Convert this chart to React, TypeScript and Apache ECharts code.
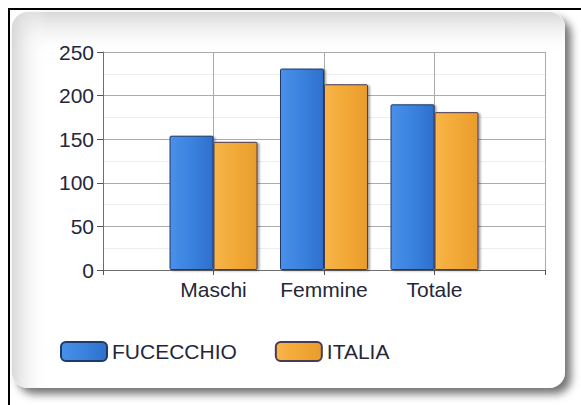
import { useEffect, useRef } from "react";
import * as echarts from "echarts";

// Category slots: empty slots at both ends keep the groups centred on ticks
const categories = ["", "Maschi", "Femmine", "Totale", ""];
const seriesNames = ["FUCECCHIO", "ITALIA"];
const fucecchio: (number | string)[] = ["-", 154, 231, 190, "-"];
const italia: (number | string)[] = ["-", 147, 213, 181, "-"];
const yMax = 250;
const yStep = 50;

const FONT = "Arial, 'Liberation Sans', sans-serif";
const TEXT = "#26263a";
const FONT_SIZE = 21;

const blueFill = new echarts.graphic.LinearGradient(0, 0, 1, 0, [
  { offset: 0, color: "#4a90e9" },
  { offset: 0.5, color: "#3a82df" },
  { offset: 1, color: "#2e70cc" },
]);
const orangeFill = new echarts.graphic.LinearGradient(0, 0, 1, 0, [
  { offset: 0, color: "#f7b549" },
  { offset: 0.5, color: "#f2a936" },
  { offset: 1, color: "#e99c2b" },
]);

export default function App() {
  const ref = useRef<HTMLDivElement>(null);

  useEffect(() => {
    document.body.style.overflow = "hidden";
    if (!ref.current) return;
    const chart = echarts.init(ref.current, null, { renderer: "svg" });
    const barStyle = (fill: any, border: string) => ({
      color: fill,
      borderColor: border,
      borderWidth: 1,
      borderRadius: 1,
      shadowColor: "rgba(0,0,0,0.35)",
      shadowBlur: 2,
      shadowOffsetX: 2,
      shadowOffsetY: 1,
    });
    chart.setOption({
      animation: false,
      backgroundColor: "#ffffff",
      graphic: [
        {
          type: "rect",
          z: -20,
          shape: { x: 2, y: 2, width: 553, height: 376, r: 16 },
          style: {
            fill: "#ffffff",
            shadowColor: "rgba(0,0,0,0.55)",
            shadowBlur: 9,
            shadowOffsetX: 6,
            shadowOffsetY: 6,
          },
        },
        {
          type: "rect",
          z: -19,
          shape: { x: 2, y: 2, width: 553, height: 44, r: [16, 16, 0, 0] },
          style: {
            fill: new echarts.graphic.LinearGradient(0, 0, 0, 1, [
              { offset: 0, color: "rgba(212,212,212,0.9)" },
              { offset: 1, color: "rgba(255,255,255,0)" },
            ]),
          },
        },
        {
          type: "rect",
          z: -19,
          shape: { x: 2, y: 2, width: 36, height: 376, r: [16, 0, 0, 16] },
          style: {
            fill: new echarts.graphic.LinearGradient(0, 0, 1, 0, [
              { offset: 0, color: "rgba(212,212,212,0.9)" },
              { offset: 1, color: "rgba(255,255,255,0)" },
            ]),
          },
        },
      ],
      legend: {
        left: 45,
        top: 326,
        itemWidth: 46,
        itemHeight: 19,
        itemGap: 38,
        icon: "roundRect",
        data: seriesNames,
        textStyle: { fontFamily: FONT, fontSize: FONT_SIZE, color: TEXT },
      },
      grid: { left: 93, top: 42, width: 442, height: 218, containLabel: false },
      xAxis: {
        type: "category",
        data: categories,
        boundaryGap: false,
        axisLine: { lineStyle: { color: "#6e6e6e", width: 1 } },
        axisTick: { show: true, interval: 0, length: 5, lineStyle: { color: "#555" } },
        axisLabel: {
          interval: 0,
          margin: 9,
          fontFamily: FONT,
          fontSize: FONT_SIZE,
          color: TEXT,
        },
        splitLine: { show: true, interval: 0, lineStyle: { color: "#ababab", width: 1 } },
      },
      yAxis: {
        type: "value",
        min: 0,
        max: yMax,
        interval: yStep,
        axisLine: { show: true, lineStyle: { color: "#6e6e6e", width: 1 } },
        axisTick: { show: true, length: 6, lineStyle: { color: "#555" } },
        axisLabel: { margin: 9, fontFamily: FONT, fontSize: FONT_SIZE, color: TEXT },
        splitLine: { show: true, lineStyle: { color: "#ababab", width: 1 } },
        minorTick: { show: false, splitNumber: 2 },
        minorSplitLine: { show: true, lineStyle: { color: "#eeeeee", width: 1 } },
      },
      series: [
        {
          name: seriesNames[0],
          type: "bar",
          data: fucecchio,
          barWidth: 44,
          barGap: "0%",
          itemStyle: barStyle(blueFill, "#1e3a6a"),
        },
        {
          name: seriesNames[1],
          type: "bar",
          data: italia,
          barWidth: 44,
          barGap: "0%",
          itemStyle: barStyle(orangeFill, "#4a3a56"),
        },
      ],
    });
    return () => chart.dispose();
  }, []);

  // The page frame only shows its top and left edges; the rest runs off-screen.
  return (
    <div
      style={{
        position: "fixed",
        left: 8,
        top: 8,
        width: 620,
        height: 440,
        borderTop: "2px solid #000",
        borderLeft: "2px solid #000",
        boxSizing: "border-box",
        background: "#ffffff",
        overflow: "hidden",
      }}
    >
      <div ref={ref} style={{ width: 600, height: 420 }} />
    </div>
  );
}
